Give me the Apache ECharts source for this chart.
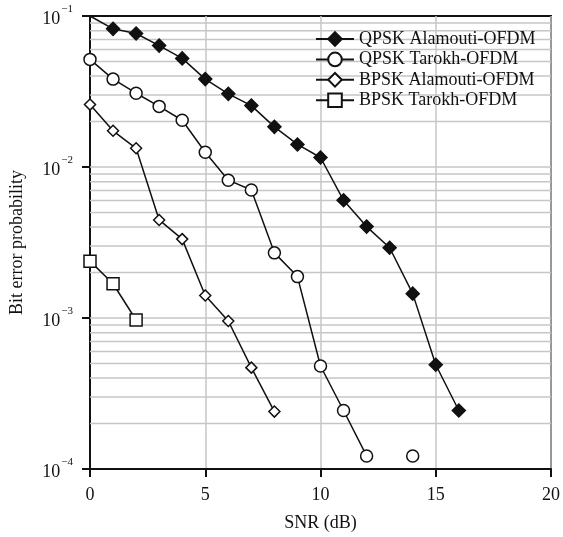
<!DOCTYPE html>
<html>
<head>
<meta charset="utf-8">
<script src="https://cdn.jsdelivr.net/npm/echarts@6/dist/echarts.min.js"></script>
<style>html,body{margin:0;padding:0;background:#fff}#c{width:563px;height:537px}</style>
</head>
<body>
<div id="c"></div>
<script>
var snr = [0,1,2,3,4,5,6,7,8,9,10,11,12,13,14,15,16];
var qpskAlamouti = [0.1,0.0822,0.0766,0.0637,0.0524,0.0382,0.0305,0.0255,0.01845,0.0141,0.01156,0.00602,0.00403,0.00292,0.00145,0.00049,0.000244];
var qpskTarokh = [0.0516,0.0382,0.0308,0.0252,0.0204,0.01253,0.00818,0.00704,0.0027,0.00188,0.000481,0.000244,0.000122,null,0.000122,null,null];
var bpskAlamouti = [0.0259,0.01737,0.0133,0.00446,0.00333,0.00141,0.000955,0.000469,0.00024,null,null,null,null,null,null,null,null];
var bpskTarokh = [0.00238,0.001686,0.00097,null,null,null,null,null,null,null,null,null,null,null,null,null,null];
var seriesNames = ['QPSK Alamouti-OFDM','QPSK Tarokh-OFDM','BPSK Alamouti-OFDM','BPSK Tarokh-OFDM'];
var xTicks = [0,5,10,15,20];
var yDecades = [1e-4,1e-3,1e-2,1e-1];
var minorMantissas = [2,3,4,5,6,7,8,9];

var FONT = '"Liberation Serif","Times New Roman",serif';
function pairs(arr){
  return snr.map(function(x,i){ return [x, arr[i]==null ? '-' : arr[i]]; });
}
var gridValues = [];
yDecades.slice(0,3).forEach(function(d){
  minorMantissas.forEach(function(m){ gridValues.push(d*m); });
});
yDecades.slice(1,3).forEach(function(d){ gridValues.push(d); });

var gridSeries = gridValues.map(function(v){
  return {type:'line', name:'_g', data:[[xTicks[0],v],[xTicks[xTicks.length-1],v]],
    symbol:'none', silent:true, z:1, animation:false,
    lineStyle:{color:'#c6c6c6', width:1.5}};
});

var qa = pairs(qpskAlamouti).map(function(p,i){
  return i===0 ? {value:p, symbol:'none'} : p;
});

function mk(name, data, symbol, size, fill){
  return {
    name:name, type:'line', data:data, z:5,
    symbol:symbol, symbolSize:size, showAllSymbol:true,
    connectNulls:false, animation:false, clip:true,
    lineStyle:{color:'#111', width:1.5},
    itemStyle:{color:fill, borderColor:'#111', borderWidth:1.5}
  };
}

var chart = echarts.init(document.getElementById('c'), null, {renderer:'canvas'});
chart.setOption({
  backgroundColor:'#fff',
  animation:false,
  textStyle:{fontFamily:FONT},
  grid:{left:89, right:11.5, top:16, bottom:62, show:true, borderColor:'#111', borderWidth:2, backgroundColor:'transparent'},
  legend:{
    data:seriesNames, left:315, top:30, orient:'vertical', padding:0,
    itemWidth:38, itemHeight:17, itemGap:2.4,
    textStyle:{fontFamily:FONT, fontSize:18, lineHeight:17, color:'#111'},
    backgroundColor:'transparent'
  },
  xAxis:{
    type:'value', min:0, max:20, interval:5,
    name:'SNR (dB)', nameLocation:'middle', nameGap:45,
    nameTextStyle:{fontFamily:FONT, fontSize:18, color:'#111'},
    axisLine:{show:true, lineStyle:{color:'#111', width:2}},
    axisTick:{show:true, inside:false, length:8, lineStyle:{color:'#111', width:2}},
    axisLabel:{fontFamily:FONT, fontSize:18, color:'#111', margin:17},
    splitLine:{show:true, lineStyle:{color:'#c6c6c6', width:1.5}}
  },
  yAxis:{
    type:'log', logBase:10, min:1e-4, max:1e-1,
    name:'Bit error probability', nameLocation:'middle', nameGap:64,
    nameTextStyle:{fontFamily:FONT, fontSize:18, color:'#111'},
    axisLine:{show:true, lineStyle:{color:'#111', width:2}},
    axisTick:{show:true, inside:false, length:8, lineStyle:{color:'#111', width:2}},
    axisLabel:{
      margin:17, color:'#111',
      formatter:function(v){
        var e = Math.round(Math.log10(v));
        return '{b|10}{s|\u2212' + Math.abs(e) + '}';
      },
      rich:{
        b:{fontFamily:FONT, fontSize:18, color:'#111', lineHeight:24, verticalAlign:'bottom'},
        s:{fontFamily:FONT, fontSize:11, color:'#111', lineHeight:24, verticalAlign:'top', padding:[0,0,0,1]}
      }
    },
    splitLine:{show:false}
  },
  series:gridSeries.concat([
    mk(seriesNames[0], qa, 'diamond', 13, '#111'),
    mk(seriesNames[1], pairs(qpskTarokh), 'circle', 12, '#fff'),
    mk(seriesNames[2], pairs(bpskAlamouti), 'diamond', 11, '#fff'),
    mk(seriesNames[3], pairs(bpskTarokh), 'rect', 12, '#fff')
  ])
});
</script>
</body>
</html>
